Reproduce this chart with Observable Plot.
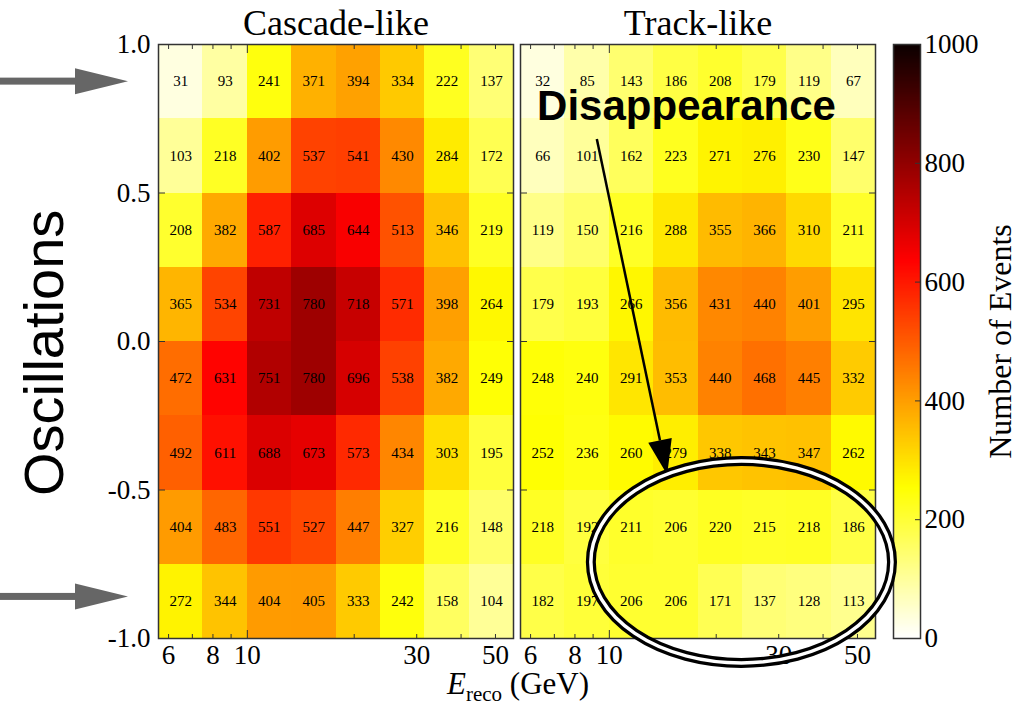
<!DOCTYPE html>
<html>
<head>
<meta charset="utf-8">
<script src="https://cdn.jsdelivr.net/npm/d3@7"></script>
<script src="https://cdn.jsdelivr.net/npm/@observablehq/plot@0.6"></script>
<style>
  body { margin: 0; background: #fff; }
  #fig { position: relative; width: 1017px; height: 708px; overflow: hidden; background: #fff; }
  #fig > * { position: absolute; }
  #xlabel { font-family: "Liberation Serif", serif; font-size: 31px; color: #000; text-align: center; white-space: nowrap; }
  #xlabel sub { font-size: 21px; vertical-align: -7px; line-height: 0; }
</style>
</head>
<body>
<div id="fig"></div>
<script>
// Reconstructed energy bins (GeV, log-spaced) and cos(zenith) bins (top to bottom)
const energyEdges = [5.62, 7.50, 10.0, 13.3, 17.8, 23.7, 31.6, 42.2, 56.2];
const cosEdges = [1, 0.75, 0.5, 0.25, 0, -0.25, -0.5, -0.75, -1];
const panels = ["Cascade-like", "Track-like"];

// Event counts per bin, rows from cos = 1 (top) down to cos = -1
const cascadeCounts = [
  [31, 93, 241, 371, 394, 334, 222, 137],
  [103, 218, 402, 537, 541, 430, 284, 172],
  [208, 382, 587, 685, 644, 513, 346, 219],
  [365, 534, 731, 780, 718, 571, 398, 264],
  [472, 631, 751, 780, 696, 538, 382, 249],
  [492, 611, 688, 673, 573, 434, 303, 195],
  [404, 483, 551, 527, 447, 327, 216, 148],
  [272, 344, 404, 405, 333, 242, 158, 104]
];
const trackCounts = [
  [32, 85, 143, 186, 208, 179, 119, 67],
  [66, 101, 162, 223, 271, 276, 230, 147],
  [119, 150, 216, 288, 355, 366, 310, 211],
  [179, 193, 266, 356, 431, 440, 401, 295],
  [248, 240, 291, 353, 440, 468, 445, 332],
  [252, 236, 260, 279, 338, 343, 347, 262],
  [218, 192, 211, 206, 220, 215, 218, 186],
  [182, 197, 206, 206, 171, 137, 128, 113]
];

const xTickValues = [6, 8, 10, 30, 50];
const xMinorTicks = [6, 7, 8, 9, 20, 30, 40, 50];
const xMajorTicks = [10];
const yTickValues = [-1, -0.5, 0, 0.5, 1];
const colorbarTicks = [0, 200, 400, 600, 800, 1000];
const colorbarInnerTicks = [200, 400, 600, 800];

// Annotations, placed in data coordinates of the track-like panel
const oscillationRows = [0.875, -0.86];
const pointerFrom = [9.25, 0.68];
const pointerTo = [14.6, -0.45];
const labelAnchor = [6.28, 0.744];
const ringBox = {x1: 8.67, x2: 64.4, y1: -0.394, y2: -1.094};

// Reversed "hot" colormap: white -> yellow -> red -> black
function hotReversed(t) {
  const s = 1 - Math.max(0, Math.min(1, t));
  const r = s < 0.365079 ? 0.0416 + (1 - 0.0416) * s / 0.365079 : 1;
  const g = s < 0.365079 ? 0 : s < 0.746032 ? (s - 0.365079) / (0.746032 - 0.365079) : 1;
  const b = s < 0.746032 ? 0 : (s - 0.746032) / (1 - 0.746032);
  return d3.rgb(r * 255, g * 255, b * 255).formatHex();
}
const colorScale = {type: "linear", domain: [0, 1000], interpolate: hotReversed};

const cells = [];
panels.forEach((panel, p) => {
  const counts = p === 0 ? cascadeCounts : trackCounts;
  counts.forEach((row, i) => row.forEach((n, j) => {
    cells.push({panel, e1: energyEdges[j], e2: energyEdges[j + 1], c1: cosEdges[i + 1], c2: cosEdges[i], n});
  }));
});

const serif = "'Liberation Serif', 'Times New Roman', serif";
const fig = document.getElementById("fig");

const chart = Plot.plot({
  width: 885,
  height: 678,
  marginTop: 44,
  marginBottom: 40,
  marginLeft: 158,
  marginRight: 9,
  style: {fontFamily: serif, fontSize: "15px", color: "#000", background: "transparent", overflow: "visible"},
  fx: {domain: panels, paddingInner: 0.0193, paddingOuter: 0, label: null, axis: null},
  x: {type: "log", domain: [energyEdges[0], energyEdges[energyEdges.length - 1]], axis: null},
  y: {domain: [-1, 1], axis: null},
  color: colorScale,
  marks: [
    Plot.rect(cells, {fx: "panel", x1: "e1", x2: "e2", y1: "c1", y2: "c2", fill: "n", shapeRendering: "crispEdges"}),
    Plot.text(cells, {
      fx: "panel",
      x: d => Math.sqrt(d.e1 * d.e2),
      y: d => (d.c1 + d.c2) / 2,
      text: "n",
      fontSize: 15,
      fill: "#000"
    }),
    Plot.frame({stroke: "#333", strokeWidth: 1.5}),
    Plot.axisFx({anchor: "top", tickSize: 0, tickPadding: 10, label: null, fontSize: 36}),
    Plot.axisY({anchor: "left", ticks: yTickValues, tickFormat: d => d.toFixed(1), tickSize: 0, tickPadding: 8, fontSize: 27, label: null}),
    Plot.axisY({anchor: "left", ticks: yTickValues, tickSize: -7, text: null, label: null, facetAnchor: null, stroke: "#333"}),
    Plot.axisY({anchor: "right", ticks: yTickValues, tickSize: -7, text: null, label: null, facetAnchor: null, stroke: "#333"}),
    Plot.axisX({anchor: "bottom", ticks: xTickValues, tickFormat: String, tickSize: 0, tickPadding: 6, fontSize: 27, label: null}),
    Plot.axisX({anchor: "bottom", ticks: xMinorTicks, tickSize: -4, text: null, label: null, stroke: "#333"}),
    Plot.axisX({anchor: "bottom", ticks: xMajorTicks, tickSize: -8, text: null, label: null, stroke: "#333"}),
    Plot.axisX({anchor: "top", ticks: xMinorTicks, tickSize: -4, text: null, label: null, stroke: "#333"}),
    Plot.axisX({anchor: "top", ticks: xMajorTicks, tickSize: -8, text: null, label: null, stroke: "#333"})
  ]
});
chart.style.left = "0px";
chart.style.top = "0px";
fig.appendChild(chart);

// Vertical colour bar for the number of events
const cbSteps = d3.range(0, 1000, 2);
const colorbar = Plot.plot({
  width: 137,
  height: 678,
  marginTop: 44,
  marginBottom: 40,
  marginLeft: 13,
  marginRight: 97,
  style: {fontFamily: serif, fontSize: "15px", color: "#000", background: "transparent", overflow: "visible"},
  x: {domain: [0, 1], axis: null},
  y: {domain: [0, 1000], axis: null},
  color: colorScale,
  marks: [
    Plot.rect(cbSteps, {x1: 0, x2: 1, y1: d => d, y2: d => d + 2.5, fill: d => d + 1, shapeRendering: "crispEdges"}),
    Plot.frame({stroke: "#333", strokeWidth: 1.5}),
    Plot.axisY({anchor: "right", ticks: colorbarTicks, tickFormat: String, tickSize: 0, tickPadding: 4, fontSize: 27, label: null}),
    Plot.axisY({anchor: "right", ticks: colorbarInnerTicks, tickSize: -6, text: null, label: null, stroke: "#333"}),
    Plot.text(["Number of Events"], {frameAnchor: "right", dx: 80, rotate: -90, textAnchor: "middle", text: d => d, fontSize: 32, fill: "#000"})
  ]
});
colorbar.style.left = "880px";
colorbar.style.top = "0px";
fig.appendChild(colorbar);

// Axis title shared by both panels
const xlabel = document.createElement("div");
xlabel.id = "xlabel";
xlabel.innerHTML = "<i>E</i><sub>reco</sub> (GeV)";
xlabel.style.left = "318px";
xlabel.style.width = "400px";
xlabel.style.top = "666px";
fig.appendChild(xlabel);

// Annotation layer
const ys = chart.scale("y");
const fxs = chart.scale("fx");
const trackLeft = fxs.apply("Track-like");
const xTrack = d3.scaleLog()
  .domain([energyEdges[0], energyEdges[energyEdges.length - 1]])
  .range([trackLeft, trackLeft + fxs.bandwidth]);
const panelLeft = fxs.apply("Cascade-like");

const overlay = d3.create("svg")
  .attr("width", 1017).attr("height", 708)
  .style("left", "0px").style("top", "0px")
  .style("pointer-events", "none");

// Grey arrows marking the oscillation regions
for (const c of oscillationRows) {
  const y = ys.apply(c);
  const tip = panelLeft - 30;
  overlay.append("rect").attr("x", 0).attr("y", y - 3.5).attr("width", tip - 48).attr("height", 7).attr("fill", "#666");
  overlay.append("path")
    .attr("d", `M${tip},${y} L${tip - 53},${y - 13} L${tip - 53},${y + 13} Z`)
    .attr("fill", "#666");
}
overlay.append("text")
  .attr("transform", `translate(63,${ys.apply(-0.04)}) rotate(-90)`)
  .attr("text-anchor", "middle")
  .attr("font-family", "'Liberation Sans', Arial, sans-serif")
  .attr("font-size", 56)
  .attr("fill", "#000")
  .text("Oscillations");

// Disappearance label with pointer arrow and ring
overlay.append("text")
  .attr("x", xTrack(labelAnchor[0])).attr("y", ys.apply(labelAnchor[1]))
  .attr("font-family", "'Liberation Sans', Arial, sans-serif")
  .attr("font-weight", "bold")
  .attr("font-size", 42)
  .attr("fill", "#000")
  .text("Disappearance");

const ax0 = xTrack(pointerFrom[0]), ay0 = ys.apply(pointerFrom[1]);
const ax1 = xTrack(pointerTo[0]), ay1 = ys.apply(pointerTo[1]);
const ang = Math.atan2(ay1 - ay0, ax1 - ax0);
const headLen = 35, headHalf = 12;
const bx = ax1 - headLen * Math.cos(ang), by = ay1 - headLen * Math.sin(ang);
overlay.append("line")
  .attr("x1", ax0).attr("y1", ay0).attr("x2", bx).attr("y2", by)
  .attr("stroke", "#000").attr("stroke-width", 2.5);
overlay.append("path")
  .attr("d", `M${ax1},${ay1} L${bx + headHalf * Math.sin(ang)},${by - headHalf * Math.cos(ang)} L${bx - headHalf * Math.sin(ang)},${by + headHalf * Math.cos(ang)} Z`)
  .attr("fill", "#000");

const ex1 = xTrack(ringBox.x1), ex2 = xTrack(ringBox.x2);
const ey1 = ys.apply(ringBox.y1), ey2 = ys.apply(ringBox.y2);
const ring = {cx: (ex1 + ex2) / 2, cy: (ey1 + ey2) / 2, rx: (ex2 - ex1) / 2 - 4, ry: (ey2 - ey1) / 2 - 3};
overlay.append("ellipse").attr("cx", ring.cx).attr("cy", ring.cy).attr("rx", ring.rx).attr("ry", ring.ry)
  .attr("fill", "none").attr("stroke", "#000").attr("stroke-width", 10);
overlay.append("ellipse").attr("cx", ring.cx).attr("cy", ring.cy).attr("rx", ring.rx).attr("ry", ring.ry)
  .attr("fill", "none").attr("stroke", "#fff").attr("stroke-width", 3.5);

fig.appendChild(overlay.node());
</script>
</body>
</html>
